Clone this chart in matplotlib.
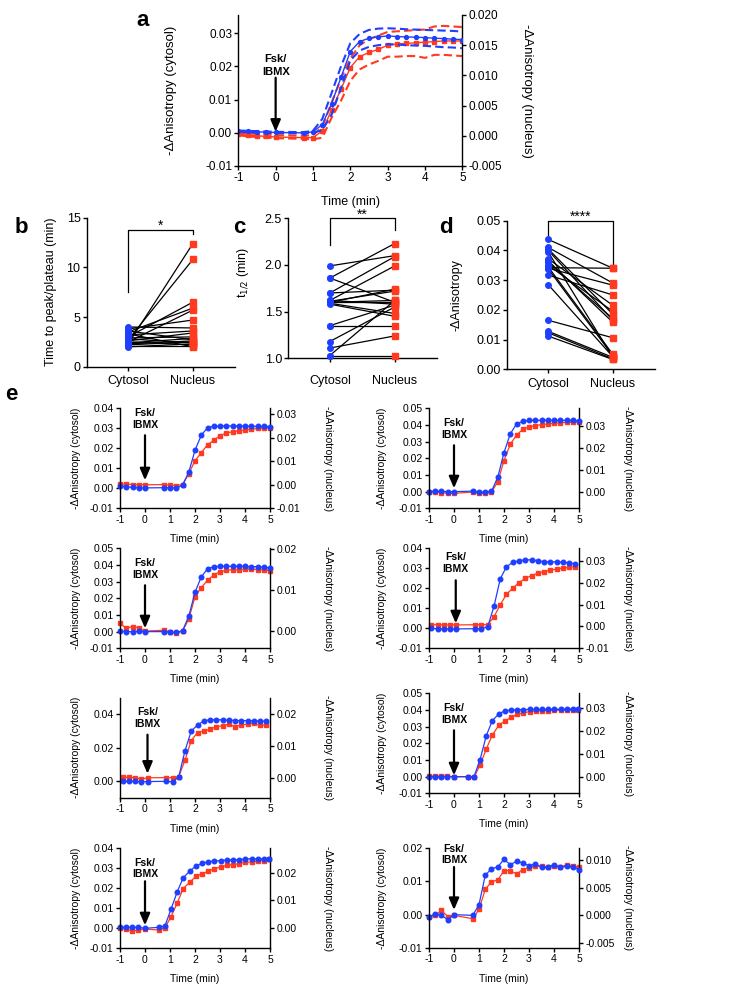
import matplotlib
matplotlib.use('Agg')
import matplotlib.pyplot as plt
from matplotlib.ticker import FormatStrFormatter

plt.rcParams['font.family'] = ['Liberation Sans', 'DejaVu Sans']
plt.rcParams['axes.unicode_minus'] = False
plt.rcParams['axes.linewidth'] = 1.0
plt.rcParams['xtick.major.width'] = 1.0
plt.rcParams['ytick.major.width'] = 1.0
plt.rcParams['xtick.major.size'] = 3
plt.rcParams['ytick.major.size'] = 3
plt.rcParams['xtick.major.pad'] = 1.5
plt.rcParams['ytick.major.pad'] = 1.5

BLUE = '#1F3FFF'
RED = '#FF3A1F'
W, H = 750, 1001  # figure size in pixels

# time grids (min)
T1 = [-1, -0.75, -0.5, -0.25, 0, 0.75, 1, 1.25, 1.5, 1.75, 2, 2.25, 2.5, 2.75, 3,
      3.25, 3.5, 3.75, 4, 4.25, 4.5, 4.75, 5]
T2 = [-1, -0.77, -0.53, -0.27, 0, 0.57, 0.8, 1.04, 1.29, 1.53, 1.8, 2.04, 2.29, 2.53,
      2.77, 3.03, 3.27, 3.51, 3.76, 4.0, 4.27, 4.51, 4.76, 4.96]
T3 = [-0.9, -0.65, -0.4, -0.15, 0.1, 0.85, 1.1, 1.35, 1.6, 1.85, 2.1, 2.35, 2.6, 2.85,
      3.1, 3.35, 3.6, 3.85, 4.1, 4.35, 4.6, 4.85]

# panel a: mean and +/- SEM
a_cyt = [0.0005, 0.0004, 0.0003, 0.0002, 0.0001, 0.0, 0.0003, 0.0025, 0.0088, 0.0167, 0.0245,
         0.0275, 0.0285, 0.0289, 0.0292, 0.0290, 0.0289, 0.0288, 0.0287, 0.0285, 0.0284, 0.0282, 0.0281]
a_cyt_hi = [0.0007, 0.0006, 0.0005, 0.0004, 0.0003, 0.0002, 0.0006, 0.0042, 0.0120, 0.0200, 0.0270,
            0.0298, 0.0310, 0.0314, 0.0315, 0.0314, 0.0312, 0.0311, 0.0310, 0.0309, 0.0308, 0.0307, 0.0305]
a_cyt_lo = [0.0003, 0.0002, 0.0001, 0.0, -0.0001, -0.0002, 0.0, 0.0008, 0.0055, 0.0135, 0.0218,
            0.0248, 0.0259, 0.0264, 0.0267, 0.0266, 0.0264, 0.0263, 0.0262, 0.0260, 0.0258, 0.0257, 0.0255]
a_nuc = [0.0003, 0.0001, 0.0, -0.0001, -0.0002, -0.0003, -0.0003, 0.0008, 0.0043, 0.0077, 0.0113,
         0.0131, 0.0138, 0.0143, 0.0150, 0.0152, 0.0153, 0.0154, 0.0155, 0.0156, 0.0157, 0.0157, 0.0157]
a_nuc_hi = [0.0005, 0.0004, 0.0003, 0.0002, 0.0001, 0.0, 0.0001, 0.0015, 0.0055, 0.0095, 0.0128,
            0.0150, 0.0160, 0.0166, 0.0172, 0.0173, 0.0174, 0.0175, 0.0176, 0.0181, 0.0182, 0.0181, 0.0180]
a_nuc_lo = [0.0001, -0.0001, -0.0002, -0.0003, -0.0004, -0.0005, -0.0006, -0.0003, 0.0030, 0.0058, 0.0091,
            0.0110, 0.0118, 0.0124, 0.0131, 0.0131, 0.0132, 0.0132, 0.0129, 0.0134, 0.0134, 0.0133, 0.0132]

# panels b-d: paired cells (cytosol, nucleus)
CATEGORIES = ['Cytosol', 'Nucleus']
b_cyt = [2.3, 2.7, 3.0, 3.5, 2.5, 3.8, 4.0, 3.2, 2.6, 2.9, 2.4, 3.6, 2.2, 2.8, 2.0, 2.1, 3.3, 2.3, 2.5]
b_nuc = [12.4, 10.8, 6.5, 5.9, 5.7, 4.7, 3.9, 3.6, 3.4, 3.0, 2.85, 2.7, 2.5, 2.4, 2.3, 2.1, 2.0, 2.6, 2.2]
c_cyt = [1.99, 1.86, 1.86, 1.70, 1.70, 1.62, 1.61, 1.60, 1.60, 1.59, 1.58, 1.35, 1.35, 1.18, 1.11,
         1.03, 1.03, 1.60, 1.62]
c_nuc = [2.10, 2.23, 1.60, 2.09, 1.73, 1.99, 1.72, 1.62, 1.60, 1.48, 1.45, 1.35, 1.57, 1.55, 1.24,
         1.03, 1.62, 1.74, 1.58]
d_cyt = [0.0437, 0.0410, 0.0405, 0.0400, 0.0395, 0.0372, 0.0365, 0.0350, 0.0345, 0.0342, 0.0340,
         0.0338, 0.0317, 0.0285, 0.0165, 0.0128, 0.0123, 0.0112, 0.0360]
d_nuc = [0.0340, 0.0290, 0.0185, 0.0165, 0.0040, 0.0215, 0.0158, 0.0195, 0.0050, 0.0340, 0.0283,
         0.0045, 0.0250, 0.0042, 0.0106, 0.0040, 0.0035, 0.0033, 0.0170]

# panel e: single cells
e1_cyt = [0.0010, 0.0008, 0.0004, 0.0002, 0.0002, 0.0003, 0.0003, 0.0002, 0.0015, 0.0080, 0.0190, 0.0265,
          0.0303, 0.0310, 0.0311, 0.0312, 0.0312, 0.0312, 0.0311, 0.0310, 0.0310, 0.0310, 0.0307]
e1_nuc = [0.0003, 0.0004, 0.0001, 0.0, 0.0, 0.0001, -0.0002, -0.0003, 0.0001, 0.0047, 0.0103, 0.0136,
          0.0171, 0.0189, 0.0210, 0.0220, 0.0226, 0.0230, 0.0234, 0.0237, 0.0240, 0.0241, 0.0242]
e2_cyt = [0.0, 0.0003, 0.0002, 0.0, 0.0, 0.0003, -0.0002, -0.0002, 0.0002, 0.0086, 0.0234, 0.0346,
          0.0406, 0.0422, 0.0427, 0.0428, 0.0428, 0.0428, 0.0428, 0.0428, 0.0428, 0.0428, 0.0425]
e2_nuc = [0.0003, 0.0003, -0.0002, -0.0004, -0.0005, 0.0001, -0.0005, -0.0005, 0.0, 0.0048, 0.0144, 0.0218,
          0.0260, 0.0286, 0.0298, 0.0303, 0.0308, 0.0311, 0.0314, 0.0316, 0.0318, 0.0319, 0.0320]
e3_cyt = [0.0005, 0.0, 0.0, 0.0003, 0.0, 0.0, -0.0003, -0.0005, 0.0005, 0.0092, 0.0236, 0.0328,
          0.0377, 0.0390, 0.0392, 0.0392, 0.0392, 0.0392, 0.0391, 0.0390, 0.0390, 0.0387, 0.0382]
e3_nuc = [0.0019, 0.0007, 0.0011, 0.0008, 0.0, 0.0002, -0.0002, -0.0005, 0.0, 0.0029, 0.0084, 0.0106,
          0.0124, 0.0137, 0.0145, 0.0148, 0.0150, 0.0150, 0.0151, 0.0151, 0.0150, 0.0149, 0.0147]
e4_cyt = [0.0, -0.0003, -0.0003, -0.0003, -0.0003, -0.0002, -0.0002, 0.0008, 0.0110, 0.0247, 0.0308,
          0.0330, 0.0338, 0.0343, 0.0342, 0.0338, 0.0333, 0.0332, 0.0333, 0.0330, 0.0327, 0.0322]
e4_nuc = [0.0008, 0.0008, 0.0007, 0.0007, 0.0007, 0.0008, 0.0008, 0.0008, 0.0045, 0.0099, 0.0148,
          0.0175, 0.0201, 0.0220, 0.0233, 0.0244, 0.0251, 0.0259, 0.0262, 0.0268, 0.0271, 0.0274]
e5_cyt = [0.0, -0.0002, -0.0002, -0.0005, -0.0003, -0.0002, -0.0005, 0.0026, 0.0182, 0.0300, 0.0336,
          0.0360, 0.0368, 0.0368, 0.0367, 0.0365, 0.0363, 0.0363, 0.0362, 0.0362, 0.0360, 0.0358]
e5_nuc = [0.0003, 0.0003, 0.0002, -0.0003, 0.0002, 0.0002, 0.0002, 0.0005, 0.0057, 0.0117, 0.0142,
          0.0147, 0.0152, 0.0160, 0.0163, 0.0168, 0.0160, 0.0166, 0.0168, 0.0171, 0.0164, 0.0166]
e6_cyt = [0.0, 0.0, 0.0, 0.0, 0.0, 0.0, 0.0, 0.0100, 0.0245, 0.0335, 0.0378, 0.0395, 0.0400, 0.0402,
          0.0402, 0.0403, 0.0403, 0.0403, 0.0403, 0.0404, 0.0404, 0.0405, 0.0405, 0.0405]
e6_nuc = [0.0003, 0.0003, 0.0004, 0.0003, 0.0, 0.0, -0.0003, 0.0051, 0.0120, 0.0181, 0.0225, 0.0243,
          0.0258, 0.0272, 0.0278, 0.0283, 0.0286, 0.0287, 0.0288, 0.0289, 0.0290, 0.0290, 0.0291, 0.0291]
e7_cyt = [0.0005, 0.0005, 0.0005, 0.0005, 0.0, 0.0005, 0.0013, 0.0095, 0.0183, 0.0253, 0.0287, 0.0312,
          0.0325, 0.0333, 0.0337, 0.0338, 0.0342, 0.0342, 0.0342, 0.0347, 0.0347, 0.0347, 0.0347, 0.0347]
e7_nuc = [-0.0003, -0.0005, -0.0012, -0.0009, -0.0005, -0.0009, 0.0, 0.0040, 0.0091, 0.0144, 0.0168,
          0.0189, 0.0199, 0.0207, 0.0217, 0.0223, 0.0229, 0.0232, 0.0235, 0.0241, 0.0241, 0.0244, 0.0247, 0.0251]
e8_cyt = [-0.0007, 0.0003, -0.0002, -0.0015, 0.0, -0.0002, 0.0030, 0.0118, 0.0138, 0.0143, 0.0166, 0.0150,
          0.0160, 0.0155, 0.0147, 0.0152, 0.0142, 0.0142, 0.0150, 0.0142, 0.0145, 0.0143, 0.0135]
e8_nuc = [-0.0002, 0.0, 0.0009, -0.0002, 0.0, -0.0006, 0.0011, 0.0047, 0.0061, 0.0064, 0.0081, 0.0081,
          0.0075, 0.0083, 0.0086, 0.0090, 0.0089, 0.0087, 0.0089, 0.0087, 0.0092, 0.0090, 0.0087]

LBL_CYT = '-ΔAnisotropy (cytosol)'
LBL_NUC = '-ΔAnisotropy (nucleus)'


def add_ax(fig, x0, x1, y0, y1):
    # box in pixels, origin at top-left
    return fig.add_axes([x0 / W, 1 - y1 / H, (x1 - x0) / W, (y1 - y0) / H])


def twin_setup(ax):
    axr = ax.twinx()
    ax.set_zorder(axr.get_zorder() + 1)
    ax.patch.set_visible(False)
    for s in ('top', 'right'):
        ax.spines[s].set_visible(False)
    for s in ('top', 'left', 'bottom'):
        axr.spines[s].set_visible(False)
    return axr


def arrow(ax, x, tail, tip, text_y, fs, spacing):
    ax.annotate('', xy=(x, tip), xytext=(x, tail), xycoords=('data', 'axes fraction'),
                textcoords=('data', 'axes fraction'),
                arrowprops=dict(arrowstyle='-|>,head_width=0.3,head_length=0.7', lw=1.6,
                                color='black', shrinkA=0, shrinkB=0, mutation_scale=10))
    ax.text(x, text_y, 'Fsk/\nIBMX', transform=ax.get_xaxis_transform(), ha='center', va='center',
            fontsize=fs, fontweight='bold', linespacing=spacing)


fig = plt.figure(figsize=(W / 100, H / 100), dpi=100)

# ---- panel a ----
ax = add_ax(fig, 238.3, 462.3, 15, 166)
axr = twin_setup(ax)
for y in (a_cyt_hi, a_cyt_lo):
    ax.plot(T1, y, color=BLUE, lw=1.5, dashes=(4, 2))
ax.plot(T1, a_cyt, color=BLUE, lw=1.0, marker='o', ms=2.8)
for y in (a_nuc_hi, a_nuc_lo):
    axr.plot(T1, y, color=RED, lw=1.5, dashes=(4, 2))
axr.plot(T1, a_nuc, color=RED, lw=1.0, marker='s', ms=2.8)
ax.set_xlim(-1, 5)
ax.set_ylim(-0.01, 0.0355)
axr.set_ylim(-0.005, 0.020)
ax.set_xticks(range(-1, 6))
ax.set_yticks([-0.01, 0.0, 0.01, 0.02, 0.03])
axr.set_yticks([-0.005, 0.0, 0.005, 0.010, 0.015, 0.020])
ax.yaxis.set_major_formatter(FormatStrFormatter('%.2f'))
axr.yaxis.set_major_formatter(FormatStrFormatter('%.3f'))
ax.tick_params(labelsize=8.5)
axr.tick_params(labelsize=8.5)
ax.set_xlabel('Time (min)', fontsize=9)
ax.xaxis.set_label_coords(0.5, -0.2)
ax.set_ylabel(LBL_CYT, fontsize=9.5)
ax.yaxis.set_label_coords(-0.275, 0.5)
axr.set_ylabel(LBL_NUC, fontsize=9.5, rotation=270, va='center')
axr.yaxis.set_label_coords(1.2875, 0.5)
arrow(ax, 0, 0.585, 0.227, 0.665, 8, 1.35)

# ---- panels b-d ----
PAIR_PANELS = [
    dict(box=(86.7, 235, 217.7, 366.7), cyt=b_cyt, nuc=b_nuc, ylim=(0, 15), yt=[0, 5, 10, 15], fmt='%d',
         ylabel='Time to peak/plateau (min)', lab=(-0.202, 0.5), bracket=(7.55, 13.76, 13.4), stars='*', pad=3),
    dict(box=(288.3, 437, 218.3, 358.3), cyt=c_cyt, nuc=c_nuc, ylim=(1.0, 2.5), yt=[1.0, 1.5, 2.0, 2.5],
         fmt='%.1f', ylabel='t$_{1/2}$ (min)', lab=(-0.253, 0.61), bracket=(2.21, 2.5, 2.375), stars='**', pad=9),
    dict(box=(506.7, 655, 220.7, 369.3), cyt=d_cyt, nuc=d_nuc, ylim=(0, 0.05),
         yt=[0, 0.01, 0.02, 0.03, 0.04, 0.05], fmt='%.2f', ylabel='-ΔAnisotropy', lab=(-0.295, 0.5),
         bracket=(0.0452, 0.05, 0.0351), stars='****', pad=3),
]
for p in PAIR_PANELS:
    ax = add_ax(fig, *p['box'])
    for c, n in zip(p['cyt'], p['nuc']):
        ax.plot([0, 1], [c, n], color='black', lw=0.9, zorder=2)
    ax.plot([0] * len(p['cyt']), p['cyt'], 'o', color=BLUE, ms=4, zorder=3, clip_on=False)
    ax.plot([1] * len(p['nuc']), p['nuc'], 's', color=RED, ms=4, zorder=3, clip_on=False)
    lo, top, ro = p['bracket']
    ax.plot([0, 0, 1, 1], [lo, top, top, ro], color='black', lw=0.9, clip_on=False)
    ax.text(0.5, top, p['stars'], ha='center', va='baseline', fontsize=10)
    ax.set_xlim(-0.64, 1.65)
    ax.set_ylim(*p['ylim'])
    ax.set_yticks(p['yt'])
    ax.yaxis.set_major_formatter(FormatStrFormatter(p['fmt']))
    ax.set_xticks([0, 1])
    ax.set_xticklabels(CATEGORIES)
    ax.tick_params(labelsize=9)
    ax.tick_params(axis='x', pad=p['pad'])
    ax.spines['top'].set_visible(False)
    ax.spines['right'].set_visible(False)
    ax.set_ylabel(p['ylabel'], fontsize=9)
    ax.yaxis.set_label_coords(*p['lab'])

# ---- panel e ----
E_PANELS = [
    dict(box=(120, 270, 408.3, 508.3), t=T1, cyt=e1_cyt, nuc=e1_nuc, ylim=(-0.01, 0.04), ylim_r=(-0.01, 0.0326),
         yt=[-0.01, 0, 0.01, 0.02, 0.03, 0.04], yt_r=[-0.01, 0, 0.01, 0.02, 0.03], fmt_r='%.2f',
         arr=(0, 0.73, 0.28, 0.895)),
    dict(box=(429, 579, 408.3, 508.3), t=T1, cyt=e2_cyt, nuc=e2_nuc, ylim=(-0.01, 0.05), ylim_r=(-0.0073, 0.0382),
         yt=[-0.01, 0, 0.01, 0.02, 0.03, 0.04, 0.05], yt_r=[0, 0.01, 0.02, 0.03], fmt_r='%.2f',
         arr=(0, 0.63, 0.20, 0.795)),
    dict(box=(120, 270, 548.3, 648.3), t=T1, cyt=e3_cyt, nuc=e3_nuc, ylim=(-0.01, 0.05), ylim_r=(-0.0042, 0.0202),
         yt=[-0.01, 0, 0.01, 0.02, 0.03, 0.04, 0.05], yt_r=[0, 0.01, 0.02], fmt_r='%.2f',
         arr=(0, 0.63, 0.20, 0.795)),
    dict(box=(429, 579, 548.3, 648.3), t=T3, cyt=e4_cyt, nuc=e4_nuc, ylim=(-0.01, 0.04), ylim_r=(-0.01, 0.0358),
         yt=[-0.01, 0, 0.01, 0.02, 0.03, 0.04], yt_r=[-0.01, 0, 0.01, 0.02, 0.03], fmt_r='%.2f',
         arr=(0.07, 0.68, 0.25, 0.85)),
    dict(box=(120, 270, 697.7, 797.7), t=T3, cyt=e5_cyt, nuc=e5_nuc, ylim=(-0.01, 0.05), ylim_r=(-0.006, 0.025),
         yt=[0, 0.02, 0.04], yt_r=[0, 0.01, 0.02], fmt_r='%.2f',
         arr=(0.1, 0.63, 0.24, 0.795)),
    dict(box=(429, 579, 693.3, 793.3), t=T2, cyt=e6_cyt, nuc=e6_nuc, ylim=(-0.01, 0.05), ylim_r=(-0.0072, 0.0363),
         yt=[-0.01, 0, 0.01, 0.02, 0.03, 0.04, 0.05], yt_r=[0, 0.01, 0.02, 0.03], fmt_r='%.2f',
         arr=(0, 0.63, 0.18, 0.795)),
    dict(box=(120, 270, 848.3, 948.3), t=T2, cyt=e7_cyt, nuc=e7_nuc, ylim=(-0.01, 0.04), ylim_r=(-0.0076, 0.0292),
         yt=[-0.01, 0, 0.01, 0.02, 0.03, 0.04], yt_r=[0, 0.01, 0.02], fmt_r='%.2f',
         arr=(0, 0.67, 0.23, 0.80)),
    dict(box=(429, 579, 848, 948), t=T1, cyt=e8_cyt, nuc=e8_nuc, ylim=(-0.01, 0.02), ylim_r=(-0.0059, 0.0122),
         yt=[-0.01, 0, 0.01, 0.02], yt_r=[-0.005, 0, 0.005, 0.010], fmt_r='%.3f',
         arr=(0, 0.81, 0.38, 0.935)),
]
for i, p in enumerate(E_PANELS):
    ax = add_ax(fig, *p['box'])
    axr = twin_setup(ax)
    axr.plot(p['t'], p['nuc'], color=RED, lw=0.9, marker='s', ms=3.3, clip_on=False)
    ax.plot(p['t'], p['cyt'], color=BLUE, lw=0.9, marker='o', ms=3.3, clip_on=False)
    ax.set_xlim(-1, 5)
    ax.set_ylim(*p['ylim'])
    axr.set_ylim(*p['ylim_r'])
    ax.set_xticks(range(-1, 6))
    ax.set_yticks(p['yt'])
    axr.set_yticks(p['yt_r'])
    ax.yaxis.set_major_formatter(FormatStrFormatter('%.2f'))
    axr.yaxis.set_major_formatter(FormatStrFormatter(p['fmt_r']))
    ax.tick_params(labelsize=7.5)
    axr.tick_params(labelsize=7.5)
    ax.set_xlabel('Time (min)', fontsize=7.5)
    ax.xaxis.set_label_coords(0.5, -0.26)
    left_col = i % 2 == 0
    ax.set_ylabel(LBL_CYT, fontsize=7.5)
    ax.yaxis.set_label_coords(-0.262 if left_col else -0.28, 0.5)
    axr.set_ylabel(LBL_NUC, fontsize=7.5, rotation=270, va='center')
    axr.yaxis.set_label_coords(1.387 if left_col else 1.327, 0.5)
    x, tail, tip, ty = p['arr']
    arrow(ax, x, tail, tip, ty, 7.5, 1.2)

# panel letters
for letter, x, y in (('a', 136, 25.7), ('b', 15, 233), ('c', 233, 233), ('d', 439, 233), ('e', 5, 400)):
    fig.text(x / W, 1 - y / H, letter, fontsize=16, fontweight='bold', ha='left', va='baseline')

fig.savefig('out.png', dpi=100)
